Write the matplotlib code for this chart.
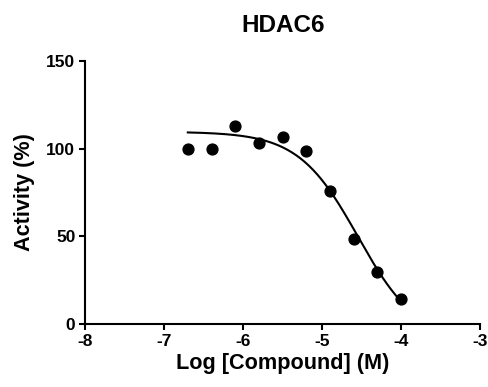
import numpy as np
import matplotlib
matplotlib.use("Agg")
import matplotlib.pyplot as plt

plt.rcParams['font.family'] = ['Liberation Sans', 'DejaVu Sans']
plt.rcParams['font.weight'] = 'bold'
plt.rcParams['axes.unicode_minus'] = False

# measured points
log_conc = [-6.7, -6.4, -6.1, -5.8, -5.5, -5.2, -4.9, -4.6, -4.3, -4.0]
activity = [100, 100, 113, 103.5, 106.5, 98.5, 76, 48.5, 29.5, 14.5]

# fitted curve parameters
top = 109.7
bottom = -10.0
log_ic50 = -4.547
hill = 1.15

fig = plt.figure(figsize=(4.89, 3.87), dpi=100)
ax = fig.add_axes([0.174, 0.163, 0.808, 0.679])

xfit = np.linspace(log_conc[0], log_conc[-1], 200)
yfit = bottom + (top - bottom) / (1 + 10 ** (hill * (xfit - log_ic50)))
ax.plot(xfit, yfit, color='black', lw=1.5)
ax.plot(log_conc, activity, 'o', color='black', ms=7.8, clip_on=False)

ax.set_xlim(-8, -3)
ax.set_ylim(0, 150)
ax.set_xticks([-8, -7, -6, -5, -4, -3])
ax.set_yticks([0, 50, 100, 150])
ax.spines['top'].set_visible(False)
ax.spines['right'].set_visible(False)
for s in ['left', 'bottom']:
    ax.spines[s].set_linewidth(1.5)
ax.tick_params(direction='out', length=4.5, width=1.5, labelsize=12.5, pad=2.5)

ax.set_xlabel('Log [Compound] (M)', fontsize=15.6, fontweight='bold', labelpad=3)
ax.set_ylabel('Activity (%)', fontsize=15.6, fontweight='bold', labelpad=8)
ax.set_title('HDAC6', fontsize=17.5, fontweight='bold', pad=21)

fig.savefig('out.png', dpi=100)
